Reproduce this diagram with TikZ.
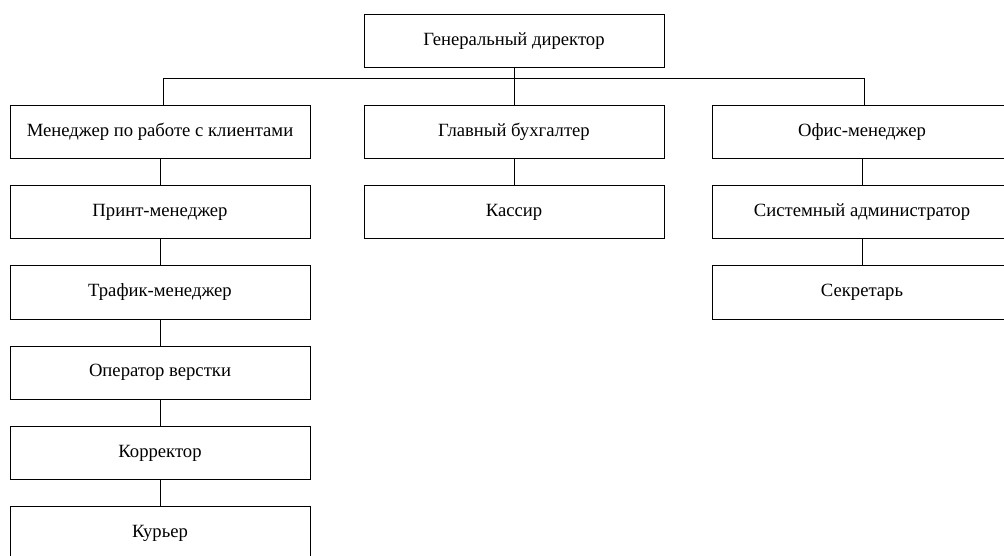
\documentclass[tikz,border=0pt]{standalone}
\usepackage{fontspec}
\setmainfont{Liberation Serif}

\tikzset{every picture/.style={line width=0.75pt}}
\tikzset{post/.style={draw, rectangle, minimum width=225pt, minimum height=39.75pt, inner sep=0pt, font=\fontsize{14}{16}\selectfont}}

\begin{document}
\begin{tikzpicture}[x=0.75pt,y=0.75pt,yscale=-1,xscale=1]
%set diagram left start at 0, and has height of 556
\clip (0,0) rectangle (1004,556);

% Top
\node [post] (gd) at (514,40.75) {Генеральный директор};

% Row 1
\node [post] (mk) at (160,132) {Менеджер по работе с клиентами};
\node [post] (gb) at (514,132) {Главный бухгалтер};
\node [post] (om) at (862,132) {Офис-менеджер};

% Left column
\node [post] (pm) at (160,212.3) {Принт-менеджер};
\node [post] (tm) at (160,292.5) {Трафик-менеджер};
\node [post] (ov) at (160,372.7) {Оператор верстки};
\node [post] (kr) at (160,453) {Корректор};
\node [post] (ku) at (160,533.3) {Курьер};

% Middle column
\node [post] (ks) at (514,212.3) {Кассир};

% Right column
\node [post] (sa) at (862,212.3) {Системный администратор};
\node [post] (se) at (862,292.5) {Секретарь};

% Bus
\coordinate (bus) at (514,78.7);
\draw (gd.south) -- (bus);
\draw ([xshift=2.25pt]mk.north) |- (bus) -| ([xshift=1.5pt]om.north);
\draw (bus) -- (gb.north);

% Chains
\draw (mk) -- (pm) -- (tm) -- (ov) -- (kr) -- (ku);
\draw (gb) -- (ks);
\draw (om) -- (sa) -- (se);

\end{tikzpicture}
\end{document}
